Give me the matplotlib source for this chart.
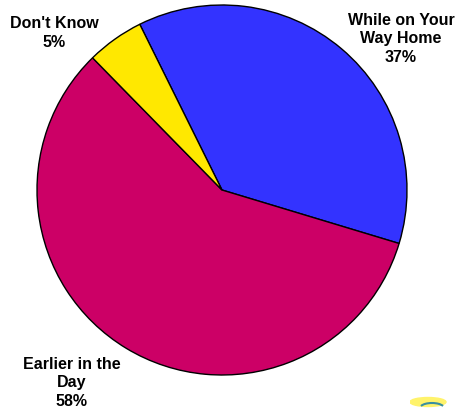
import matplotlib.pyplot as plt
import matplotlib.patches as patches

plt.rcParams['font.family'] = ['Liberation Sans', 'DejaVu Sans']

# Slice data (clockwise from the top-left boundary)
labels = ["While on Your\nWay Home", "Earlier in the\nDay", "Don't Know"]
shares = [37, 58, 5]
colors = ['#3333FF', '#CC0066', '#FFE800']

# label anchor points in figure pixels (x, y from top)
label_pos = [(401, 39), (72, 383), (54, 33)]

W, H = 456, 410
fig = plt.figure(figsize=(W / 100, H / 100), dpi=100)
cx, cy, r = 222, 191, 185
ax = fig.add_axes([(cx - r) / W, (H - cy - r) / H, 2 * r / W, 2 * r / H])

ax.pie(shares, colors=colors, startangle=116.4, counterclock=False,
       wedgeprops=dict(edgecolor='black', linewidth=1.0))
ax.set_xlim(-1, 1)
ax.set_ylim(-1, 1)
ax.axis('off')

for lab, val, (x, y) in zip(labels, shares, label_pos):
    fig.text(x / W, 1 - y / H, f"{lab}\n{val}%", ha='center', va='center',
             fontsize=11.5, fontweight='bold', linespacing=1.32)

# little logo swoosh in the corner
logo = fig.add_axes([410 / W, 0, 40 / W, 20 / H])
logo.add_patch(patches.Ellipse((0.45, 0.35), 0.9, 0.45, color='#FFF36B'))
logo.add_patch(patches.Arc((0.55, 0.05), 0.6, 0.5, theta1=20, theta2=160,
                           color='#3A8FA0', linewidth=1.5))
logo.set_xlim(0, 1)
logo.set_ylim(0, 1)
logo.axis('off')

fig.savefig('out.png', dpi=100)
